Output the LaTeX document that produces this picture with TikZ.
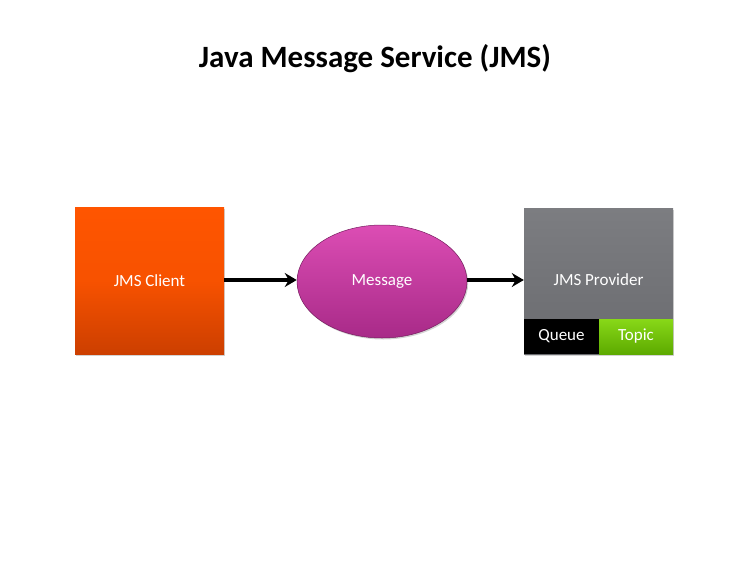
\documentclass[tikz,border=0pt]{standalone}
\usepackage{fontspec}
\setmainfont{Carlito}
\usetikzlibrary{shapes.geometric,shadows,arrows.meta}
\definecolor{orangeTop}{HTML}{FF5500}
\definecolor{orangeBot}{HTML}{CC3F00}
\definecolor{magTop}{HTML}{DC4DB4}
\definecolor{magBot}{HTML}{A82A88}
\definecolor{grayTop}{HTML}{7C7D81}
\definecolor{grayBot}{HTML}{6A6B6F}
\definecolor{greenTop}{HTML}{88D818}
\definecolor{greenBot}{HTML}{5DAA00}
\tikzset{
  softshadow/.style={drop shadow={opacity=0.35,shadow xshift=1.2pt,shadow yshift=-1.5pt}},
  boxlabel/.style={text=white,font=\fontsize{17}{20}\selectfont},
  flow/.style={line width=3.6pt,-{Stealth[length=12pt,width=14pt,inset=4pt]}},
}
\begin{document}
\begin{tikzpicture}[x=1pt,y=-1pt]
\useasboundingbox (0,0) rectangle (750,563);
\node[font=\fontsize{31}{36}\bfseries\selectfont] (title) at (375,59) {Java Message Service (JMS)};
\node[softshadow,rectangle,minimum width=149pt,minimum height=147pt,inner sep=0pt,
  top color=orangeTop,bottom color=orangeBot,middle color=orangeTop!85!orangeBot,boxlabel] (client) at (149.5,280.5) {JMS Client};
\node[softshadow,ellipse,minimum width=170pt,minimum height=113pt,inner sep=0pt,
  draw=magBot!70!black,line width=0.5pt,top color=magTop,bottom color=magBot,boxlabel] (msg) at (382,281.5) {Message};
\node[softshadow,rectangle,minimum width=149pt,minimum height=146pt,inner sep=0pt,
  top color=grayTop,bottom color=grayBot,boxlabel] (prov) at (598.5,281) {};
\node[boxlabel] (provlabel) at (598.5,280) {JMS Provider};
\node[rectangle,minimum width=75pt,minimum height=35pt,inner sep=0pt,fill=black,boxlabel,anchor=south west] (queue) at (prov.south west) {Queue};
\node[rectangle,minimum width=74pt,minimum height=35pt,inner sep=0pt,top color=greenTop,bottom color=greenBot,boxlabel,anchor=south east] (topic) at (prov.south east) {Topic};
\coordinate (a1) at (client.east |- 0,280);
\coordinate (a2) at (msg.west |- 0,280);
\coordinate (a3) at (msg.east |- 0,280);
\coordinate (a4) at (prov.west |- 0,280);
\draw[flow] (a1) -- (a2);
\draw[flow] (a3) -- (a4);
\end{tikzpicture}
\end{document}
